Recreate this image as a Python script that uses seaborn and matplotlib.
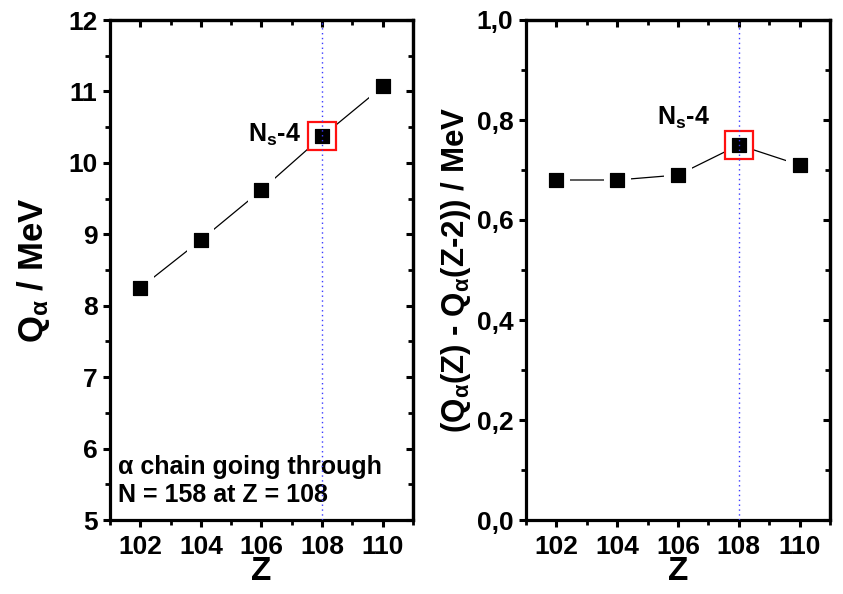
import matplotlib
matplotlib.use("Agg")
import matplotlib.pyplot as plt
import seaborn as sns
import pandas as pd
from matplotlib.ticker import MultipleLocator, FuncFormatter

sns.set_style("ticks")
plt.rcParams['font.family'] = ['Liberation Sans', 'DejaVu Sans']
plt.rcParams['font.weight'] = 'bold'
plt.rcParams['mathtext.fontset'] = 'custom'
plt.rcParams['mathtext.rm'] = 'Liberation Sans:bold'
plt.rcParams['mathtext.it'] = 'Liberation Sans:bold'
plt.rcParams['mathtext.bf'] = 'Liberation Sans:bold'
for k in ['text.color', 'axes.labelcolor', 'xtick.color', 'ytick.color', 'axes.edgecolor']:
    plt.rcParams[k] = 'black'

Z = [102, 104, 106, 108, 110]
Q_alpha = [8.25, 8.92, 9.62, 10.37, 11.07]
dQ_alpha = [0.68, 0.68, 0.69, 0.75, 0.71]
highlight_Z = 108

df = pd.DataFrame({"Z": Z, "Q": Q_alpha, "dQ": dQ_alpha})

fig = plt.figure(figsize=(8.43, 5.94), dpi=100)
ax1 = fig.add_axes([110/843, 1-520/594, 303/843, 500/594])
ax2 = fig.add_axes([526/843, 1-520/594, 304/843, 500/594])


def style(ax, ymin, ymax, ymaj, ymin_step):
    ax.set_xlim(101, 111)
    ax.set_ylim(ymin, ymax)
    ax.xaxis.set_major_locator(MultipleLocator(2))
    ax.xaxis.set_minor_locator(MultipleLocator(1))
    ax.yaxis.set_major_locator(MultipleLocator(ymaj))
    ax.yaxis.set_minor_locator(MultipleLocator(ymin_step))
    for s in ax.spines.values():
        s.set_linewidth(2.3)
        s.set_visible(True)
        s.set_color('black')
    ax.tick_params(which='major', direction='out', length=5, width=2.2,
                   labelsize=19, pad=4, colors='black')
    ax.tick_params(axis='x', which='major', pad=6)
    ax.tick_params(which='minor', direction='out', length=3.5, width=2.0, colors='black')
    ax.tick_params(which='both', top=False, right=False)


def draw(ax, col, hy):
    sns.lineplot(data=df, x="Z", y=col, ax=ax, color='black', linewidth=0.9,
                 zorder=2, legend=False)
    sns.scatterplot(data=df, x="Z", y=col, ax=ax, marker='s', s=380,
                    color='white', edgecolor='none', zorder=3, legend=False)
    sns.scatterplot(data=df, x="Z", y=col, ax=ax, marker='s', s=115,
                    color='black', edgecolor='black', zorder=4, legend=False)
    ax.plot([highlight_Z], [hy], marker='s', markersize=20, markerfacecolor='none',
            markeredgecolor='#ff1010', markeredgewidth=1.6, linestyle='none', zorder=5)
    ax.axvline(highlight_Z, color='#3a3aff', linestyle=(0, (1, 2.5)),
               linewidth=1.0, zorder=6)


style(ax1, 5, 12, 1, 0.5)
style(ax2, 0.0, 1.0, 0.2, 0.1)
draw(ax1, "Q", Q_alpha[Z.index(highlight_Z)])
draw(ax2, "dQ", dQ_alpha[Z.index(highlight_Z)])

ax2.yaxis.set_major_formatter(FuncFormatter(lambda v, p: f"{v:.1f}".replace('.', ',')))
for ax in (ax1, ax2):
    sec_x = ax.secondary_xaxis('top')
    sec_x.xaxis.set_major_locator(MultipleLocator(2))
    sec_x.xaxis.set_minor_locator(MultipleLocator(1))
    sec_x.tick_params(which='major', direction='in', length=5, width=2.2, labeltop=False, colors='black')
    sec_x.tick_params(which='minor', direction='in', length=3.5, width=2.0, colors='black')
    sec_x.spines['top'].set_linewidth(2.3)
    sec_y = ax.secondary_yaxis('right')
    sec_y.yaxis.set_major_locator(ax.yaxis.get_major_locator())
    sec_y.yaxis.set_minor_locator(ax.yaxis.get_minor_locator())
    sec_y.tick_params(which='major', direction='in', length=5, width=2.2, labelright=False, colors='black')
    sec_y.tick_params(which='minor', direction='in', length=3.5, width=2.0, colors='black')
    sec_y.spines['right'].set_linewidth(2.3)
    ax.set_xlabel("Z", fontsize=24, fontweight='bold', labelpad=-2)
    for lab in ax.get_xticklabels() + ax.get_yticklabels():
        lab.set_fontweight('bold')

ax1.set_ylabel(r"Q$_{\alpha}$ / MeV", fontsize=25, fontweight='bold', labelpad=12)
ax2.set_ylabel(r"(Q$_{\alpha}$(Z) - Q$_{\alpha}$(Z-2)) / MeV", fontsize=22.5,
               fontweight='bold', labelpad=3)

ax1.text(107.3, 10.29, r"N$_{s}$-4", fontsize=18, fontweight='bold',
         ha='right', va='baseline')
ax2.text(107.05, 0.79, r"N$_{s}$-4", fontsize=18, fontweight='bold',
         ha='right', va='baseline')
ax1.text(101.25, 5.25, "α chain going through\nN = 158 at Z = 108", fontsize=18,
         fontweight='bold', ha='left', va='baseline', linespacing=1.2)

fig.savefig("out.png", dpi=100)
